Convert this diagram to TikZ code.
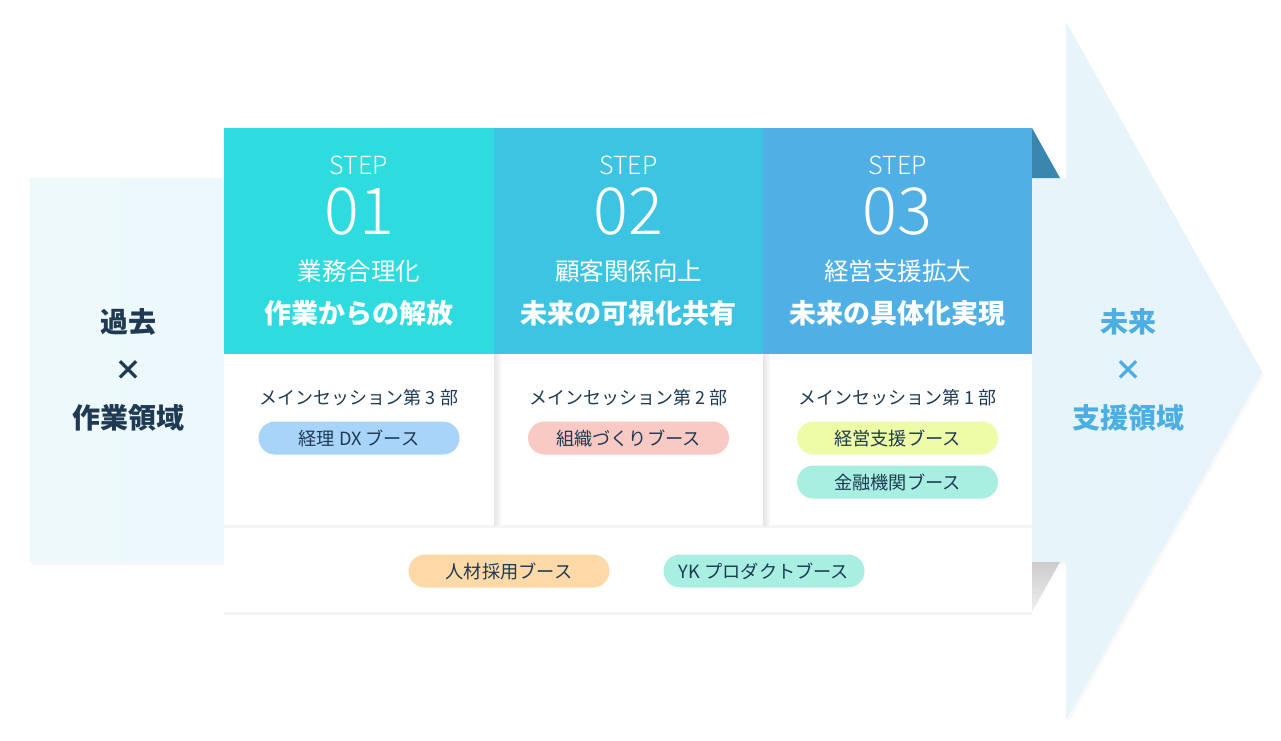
\documentclass[tikz,border=0pt]{standalone}
\usepackage{fontspec}
\setmainfont{Noto Sans CJK JP}
\newfontfamily\jp{Noto Sans CJK JP}
\newfontfamily\jplt{Noto Sans CJK JP Light}
\usetikzlibrary{shadows,fadings}
\definecolor{hA}{HTML}{2EDCE0}
\definecolor{hB}{HTML}{3EC4E3}
\definecolor{hC}{HTML}{50B0E6}
\definecolor{navy}{HTML}{1F3A52}
\definecolor{sky}{HTML}{4DAEE2}
\definecolor{bandL}{HTML}{EDF9FB}
\definecolor{bandR}{HTML}{E6F3FA}
\definecolor{foldD}{HTML}{3A86AE}
\definecolor{pBlue}{HTML}{A8D4FA}
\definecolor{pPink}{HTML}{F9C9C4}
\definecolor{pYel}{HTML}{EEFCA8}
\definecolor{pMint}{HTML}{A8EFE2}
\definecolor{pOra}{HTML}{FDD9A8}
\tikzset{
  x=1pt,y=-1pt,
  pill/.style={rounded corners=16.5pt,minimum width=201pt,minimum height=33pt,inner sep=0pt,text=navy,font=\jp\fontsize{18.2}{20}\selectfont},
  steplbl/.style={text=white,font=\jplt\fontsize{25}{27}\selectfont},
  numlbl/.style={text=white,font=\jplt\fontsize{65}{67}\selectfont},
  sublbl/.style={text=white,font=\jp\fontsize{24.5}{27}\selectfont},
  ttllbl/.style={text=white,font=\jp\bfseries\fontsize{27}{29}\selectfont},
  seslbl/.style={text=navy,font=\jp\fontsize{18}{20}\selectfont},
  sidelbl/.style={font=\jp\bfseries\fontsize{28}{30}\selectfont},
  sidex/.style={font=\jp\bfseries\fontsize{28}{30}\selectfont},
  card/.style={fill=white,drop shadow={shadow xshift=0pt,shadow yshift=-3pt,opacity=0.07,fill=black!60}},
}
\begin{document}
\begin{tikzpicture}
\useasboundingbox (0,0) rectangle (1281,740);
% band + arrow
\shade[left color=bandL,right color=bandR,drop shadow={shadow xshift=2pt,shadow yshift=-3pt,opacity=0.06}]
  (30,178) -- (1066,178) -- (1066,22) -- (1262,372) -- (1066,720) -- (1066,562) -- (30,562) -- cycle;
% folds
\fill[foldD] (1032,128) -- (1060,178) -- (1032,178) -- cycle;
\shade[top color=black!20,bottom color=black!6] (1032,562) -- (1060,562) -- (1032,612) -- cycle;
% bottom strip
\node[card,minimum width=808pt,minimum height=88pt,inner sep=0pt,anchor=north west] (strip) at (224,524) {};
% columns
\node[card,minimum width=270pt,minimum height=397pt,inner sep=0pt,anchor=north west] (c1) at (224,128) {};
\node[card,minimum width=269pt,minimum height=397pt,inner sep=0pt,anchor=north west] (c2) at (494,128) {};
\node[card,minimum width=269pt,minimum height=397pt,inner sep=0pt,anchor=north west] (c3) at (763,128) {};
\shade[left color=black!10,right color=white] (494,354) rectangle (502,525);
\shade[left color=black!10,right color=white] (763,354) rectangle (771,525);
\fill[hA] (224,128) rectangle (494,354);
\fill[hB] (494,128) rectangle (763,354);
\fill[hC] (763,128) rectangle (1032,354);
% header texts
\foreach \cx/\n/\num/\sub/\ttl in {359/a/01/業務合理化/作業からの解放, 628.5/b/02/顧客関係向上/未来の可視化共有, 897.5/c/03/経営支援拡大/未来の具体化実現}{
  \node[steplbl] (s\n) at (\cx,165) {STEP};
  \node[numlbl] (n\n) at (\cx,211) {\num};
  \node[sublbl] (u\n) at (\cx,271) {\sub};
  \node[ttllbl] (t\n) at (\cx,313) {\ttl};
}
% sessions
\node[seslbl] (m1) at (359,398) {メインセッション第 3 部};
\node[seslbl] (m2) at (628.5,398) {メインセッション第 2 部};
\node[seslbl] (m3) at (897.5,398) {メインセッション第 1 部};
\node[pill,fill=pBlue] (p1) at (359,438) {経理 DX ブース};
\node[pill,fill=pPink] (p2) at (628.5,438) {組織づくりブース};
\node[pill,fill=pYel] (p3) at (897.5,438) {経営支援ブース};
\node[pill,fill=pMint] (p4) at (897.5,482) {金融機関ブース};
\node[pill,fill=pOra] (p5) at (509,571) {人材採用ブース};
\node[pill,fill=pMint] (p6) at (764,571) {YK プロダクトブース};
% side labels
\node[sidelbl,text=navy] (past1) at (128,322) {過去};
\node[sidex,text=navy] (past2) at (128,370) {×};
\node[sidelbl,text=navy] (past3) at (128,418) {作業領域};
\node[sidelbl,text=sky] (fut1) at (1128,322) {未来};
\node[sidex,text=sky] (fut2) at (1128,370) {×};
\node[sidelbl,text=sky] (fut3) at (1128,418) {支援領域};
\end{tikzpicture}
\end{document}
